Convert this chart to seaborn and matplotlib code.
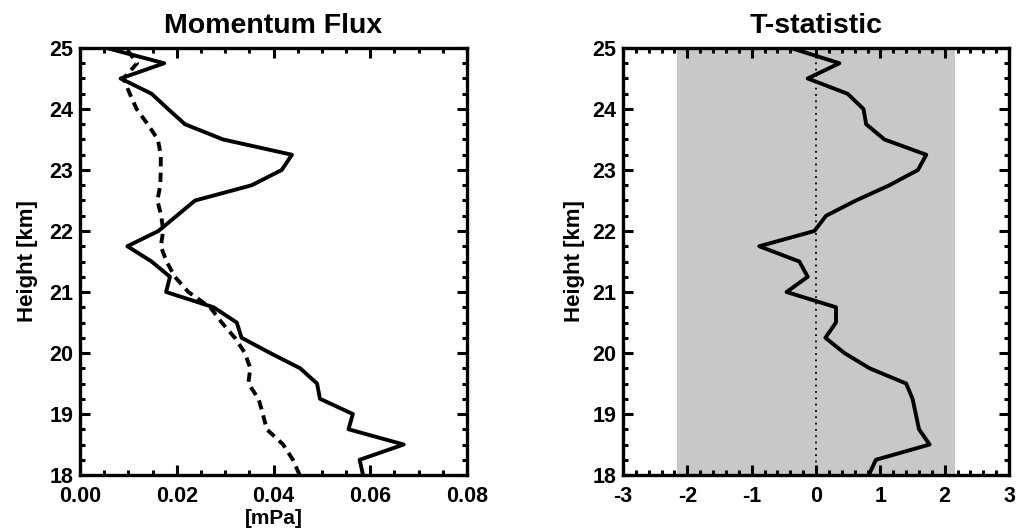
import numpy as np
import pandas as pd
import matplotlib
matplotlib.use("Agg")
import matplotlib.pyplot as plt
import seaborn as sns
from matplotlib.ticker import MultipleLocator, FormatStrFormatter

# ---- data (heights in km, from bottom 18.0 to top 25.0 every 0.25 km) ----
height = [18.0, 18.25, 18.5, 18.75, 19.0, 19.25, 19.5, 19.75, 20.0, 20.25,
          20.5, 20.75, 21.0, 21.25, 21.5, 21.75, 22.0, 22.25, 22.5, 22.75,
          23.0, 23.25, 23.5, 23.75, 24.0, 24.25, 24.5, 24.75, 25.0]

flux_solid = [0.0585, 0.0578, 0.0669, 0.0555, 0.0564, 0.0496, 0.0490, 0.0455, 0.0393, 0.0334,
              0.0324, 0.0276, 0.0178, 0.0186, 0.0148, 0.0098, 0.0162, 0.0200, 0.0238, 0.0355,
              0.0417, 0.0438, 0.0296, 0.0217, 0.0182, 0.0148, 0.0084, 0.0174, 0.0055]

flux_dashed = [0.0454, 0.0440, 0.0420, 0.0386, 0.0378, 0.0369, 0.0348, 0.0352, 0.0341, 0.0320,
               0.0293, 0.0269, 0.0224, 0.0196, 0.0179, 0.0167, 0.0172, 0.0168, 0.0160, 0.0166,
               0.0167, 0.0167, 0.0161, 0.0140, 0.0117, 0.0103, 0.0090, 0.0118, 0.0095]

tstat = [0.82, 0.93, 1.765, 1.60, 1.55, 1.50, 1.40, 0.83, 0.44, 0.145,
         0.31, 0.31, -0.458, -0.13, -0.26, -0.883, -0.026, 0.156, 0.62, 1.14,
         1.583, 1.713, 1.064, 0.779, 0.737, 0.49, -0.13, 0.363, -0.39]

t_crit = 2.16

left_xticks = [0.00, 0.02, 0.04, 0.06, 0.08]
right_xticks = [-3, -2, -1, 0, 1, 2, 3]
yticks = [18, 19, 20, 21, 22, 23, 24, 25]

df = pd.DataFrame({"height": height, "solid": flux_solid,
                   "dashed": flux_dashed, "t": tstat})

sns.set_theme(style="white")
plt.rcParams['font.family'] = ['Liberation Sans', 'DejaVu Sans']
plt.rcParams['font.weight'] = 'bold'
plt.rcParams['axes.unicode_minus'] = False
for k in ('text.color', 'axes.labelcolor', 'xtick.color', 'ytick.color'):
    plt.rcParams[k] = 'black'

fig = plt.figure(figsize=(10.16, 5.32), dpi=100)
ax1 = fig.add_axes([0.0787, 0.1071, 0.381, 0.8027])
ax2 = fig.add_axes([0.6132, 0.1071, 0.380, 0.8027])

lw = 2.8
sns.lineplot(data=df, x="solid", y="height", sort=False, estimator=None,
             color="black", lw=lw, ax=ax1)
sns.lineplot(data=df, x="dashed", y="height", sort=False, estimator=None,
             color="black", lw=lw, ax=ax1, linestyle=(0, (2.4, 1.6)))

ax2.axvspan(-t_crit, t_crit, color="#c8c8c8", lw=0, zorder=0)
ax2.axvline(0, color="black", lw=1.3, ls=(0, (1, 2.5)), zorder=1)
sns.lineplot(data=df, x="t", y="height", sort=False, estimator=None,
             color="black", lw=lw, ax=ax2, zorder=3)

tick_fs = 15.5
for ax, xt, xmin in ((ax1, left_xticks, 0.005), (ax2, right_xticks, 0.2)):
    ax.set_ylim(18, 25)
    ax.set_xlim(xt[0], xt[-1])
    ax.set_xticks(xt)
    ax.set_yticks(yticks)
    ax.xaxis.set_minor_locator(MultipleLocator(xmin))
    ax.yaxis.set_minor_locator(MultipleLocator(0.25))
    ax.tick_params(which="both", direction="in", top=True, right=True,
                   bottom=True, left=True, color="black")
    ax.tick_params(which="major", length=7, width=2.2, labelsize=tick_fs)
    ax.tick_params(axis="x", which="major", pad=8)
    ax.tick_params(axis="y", which="major", pad=5)
    ax.tick_params(which="minor", length=3.5, width=2.2)
    for sp in ax.spines.values():
        sp.set_linewidth(2.4)
        sp.set_color("black")
    for lab in ax.get_xticklabels() + ax.get_yticklabels():
        lab.set_fontweight("bold")
    ax.grid(False)

ax1.set_ylabel("Height [km]", fontsize=16, fontweight="bold", labelpad=8)
ax2.set_ylabel("Height [km]", fontsize=16, fontweight="bold", labelpad=5)
ax1.xaxis.set_major_formatter(FormatStrFormatter("%.2f"))
ax1.set_xlabel("[mPa]", fontsize=15, fontweight="bold", labelpad=1)
ax2.set_xlabel("")
ax1.set_title("Momentum Flux", fontsize=20.5, fontweight="bold", pad=11)
ax2.set_title("T-statistic", fontsize=20.5, fontweight="bold", pad=11)

fig.savefig("out.png", dpi=100)
